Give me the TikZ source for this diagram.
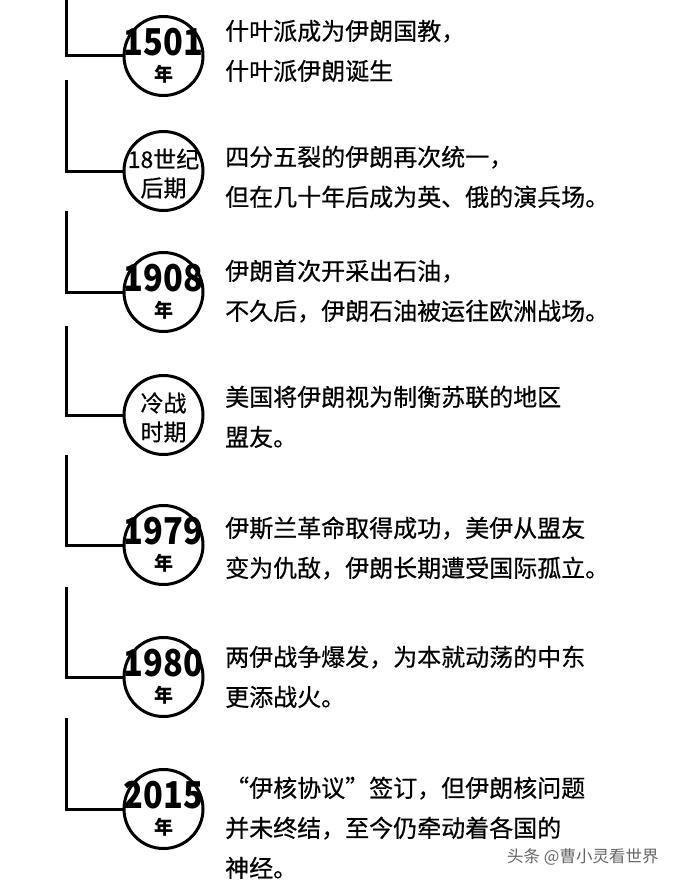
\documentclass[tikz,border=0pt]{standalone}
\usepackage{fontspec}
\setmainfont{Noto Sans CJK SC}
\newfontfamily\cjk{Noto Sans CJK SC}
\newfontfamily\cjkm[FakeBold=0.5]{Noto Sans CJK SC}
\newcommand{\yr}[1]{\scalebox{0.88}[1]{#1}}
\begin{document}
\begin{tikzpicture}[x=1pt,y=-1pt,
  yearcircle/.style={circle,draw,line width=3pt,minimum size=79pt,inner sep=0pt},
  bar/.style={line width=3pt},
  yearnum/.style={font=\cjk\bfseries\fontsize{37}{37}\selectfont,inner sep=0pt},
  yearunit/.style={font=\cjk\bfseries\fontsize{19}{19}\selectfont,inner sep=0pt},
  eratext/.style={font=\cjkm\fontsize{23}{23}\selectfont,inner sep=0pt},
  desc/.style={font=\cjkm\fontsize{24}{40}\selectfont,align=left,anchor=base west,inner sep=0pt}]
\useasboundingbox (0,0) rectangle (681,880);
\fill[white] (0,0) rectangle (681,880);

% circles
\node[yearcircle] (c1) at (163.5,56) {};
\node[yearcircle] (c2) at (163.5,171) {};
\node[yearcircle] (c3) at (163.5,292) {};
\node[yearcircle] (c4) at (163.5,415) {};
\node[yearcircle] (c5) at (163.5,545) {};
\node[yearcircle] (c6) at (163.5,677) {};
\node[yearcircle] (c7) at (163.5,809) {};

% circle texts
\path (c1) ++(0,-14) node[yearnum] (y1) {\yr{1501}};
\path (c1) ++(0,18) node[yearunit] (u1) {年};
\path (c2) ++(0,-12) node[eratext] (y2) {18世纪};
\path (c2) ++(0,17) node[eratext] (u2) {后期};
\path (c3) ++(0,-14) node[yearnum] (y3) {\yr{1908}};
\path (c3) ++(0,18) node[yearunit] (u3) {年};
\path (c4) ++(0,-12) node[eratext] (y4) {冷战};
\path (c4) ++(0,17) node[eratext] (u4) {时期};
\path (c5) ++(0,-14) node[yearnum] (y5) {\yr{1979}};
\path (c5) ++(0,18) node[yearunit] (u5) {年};
\path (c6) ++(0,-14) node[yearnum] (y6) {\yr{1980}};
\path (c6) ++(0,18) node[yearunit] (u6) {年};
\path (c7) ++(0,-14) node[yearnum] (y7) {\yr{2015}};
\path (c7) ++(0,18) node[yearunit] (u7) {年};

% connector tops
\coordinate (v1) at (66,0);
\coordinate (v2) at (66,80);
\coordinate (v3) at (66,211);
\coordinate (v4) at (66,326);
\coordinate (v5) at (66,455);
\coordinate (v6) at (66,587);
\coordinate (v7) at (66,718);
\foreach \i in {1,...,7}{
  \draw[bar] (v\i) |- (c\i.west);
}

% descriptions (anchor = baseline of last line)
\node[desc] (t1) at (225,80) {什叶派成为伊朗国教，\\什叶派伊朗诞生};
\node[desc] (t2) at (225,206) {四分五裂的伊朗再次统一，\\但在几十年后成为英、俄的演兵场。};
\node[desc] (t3) at (225,320) {伊朗首次开采出石油，\\不久后，伊朗石油被运往欧洲战场。};
\node[desc] (t4) at (225,446) {美国将伊朗视为制衡苏联的地区\\盟友。};
\node[desc] (t5) at (225,577) {伊斯兰革命取得成功，美伊从盟友\\变为仇敌，伊朗长期遭受国际孤立。};
\node[desc] (t6) at (225,706) {两伊战争爆发，为本就动荡的中东\\更添战火。};
\node[desc] (t7) at (225,877) {“伊核协议”签订，但伊朗核问题\\并未终结，至今仍牵动着各国的\\神经。};

% watermark
\node[font=\cjk\fontsize{16.5}{16.5}\selectfont,text=black!60,anchor=west,inner sep=0pt] (wm) at (507,857) {头条 @曹小灵看世界};
\end{tikzpicture}
\end{document}
